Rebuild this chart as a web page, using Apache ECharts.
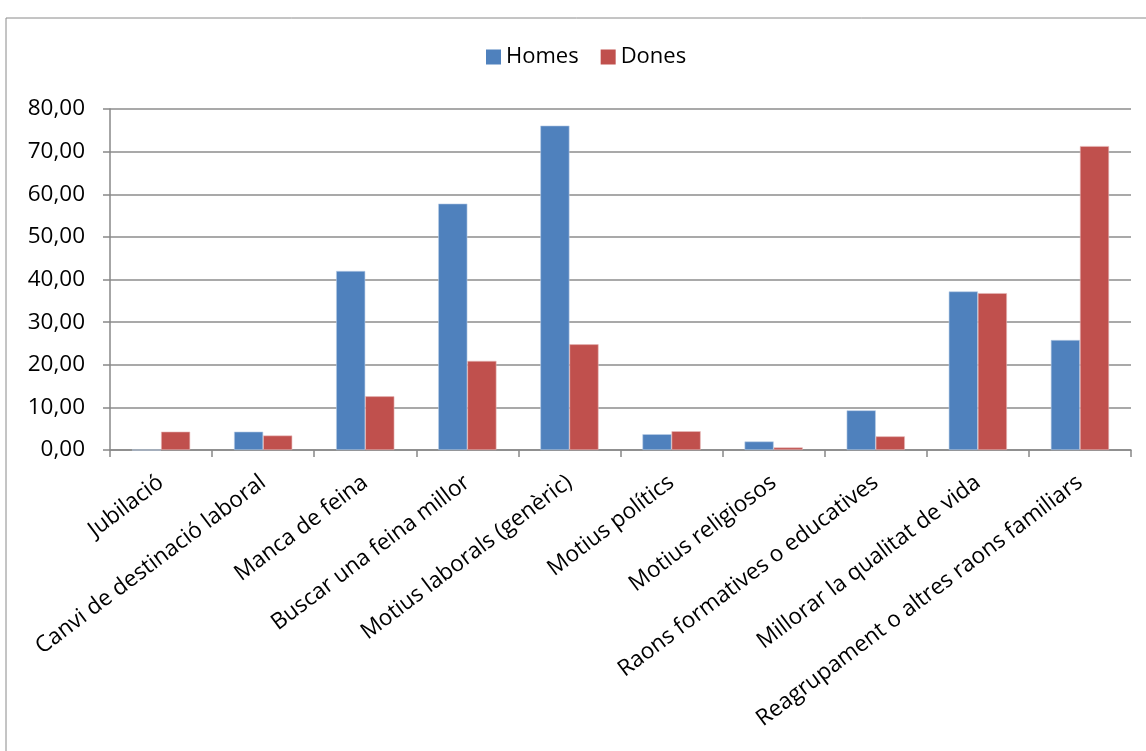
<!DOCTYPE html>
<html>
<head>
<meta charset="utf-8">
<script src="https://cdn.jsdelivr.net/npm/echarts@6/dist/echarts.min.js"></script>
<style>
  html, body { margin: 0; padding: 0; background: #ffffff; }
  #chart { width: 1146px; height: 751px; }
</style>
</head>
<body>
<div id="chart"></div>
<script>
// Motius de la migració, per sexe (%)
const categories = [
  'Jubilació',
  'Canvi de destinació laboral',
  'Manca de feina',
  'Buscar una feina millor',
  'Motius laborals (genèric)',
  'Motius polítics',
  'Motius religiosos',
  'Raons formatives o educatives',
  'Millorar la qualitat de vida',
  'Reagrupament o altres raons familiars'
];
const homes = [0, 4.3, 42.0, 57.8, 76.1, 3.7, 2.0, 9.3, 37.2, 25.8];
const dones = [4.3, 3.4, 12.6, 20.9, 24.8, 4.4, 0.6, 3.2, 36.8, 71.3];

const FONT = '"Open Sans", Lato, sans-serif';

const chart = echarts.init(document.getElementById('chart'), null, { renderer: 'canvas' });

chart.setOption({
  animation: false,
  backgroundColor: '#ffffff',
  graphic: [{
    type: 'rect',
    left: 3.5, top: 15.5,
    shape: { width: 1300, height: 900 },
    style: { fill: 'none', stroke: '#8a8a8a', lineWidth: 1 },
    silent: true, z: -1
  }],
  legend: {
    top: 41,
    left: 481,
    itemWidth: 15,
    itemHeight: 15,
    itemGap: 22,
    icon: 'rect',
    itemStyle: { borderWidth: 0 },
    textStyle: { fontFamily: FONT, fontSize: 22, color: '#000' },
    data: ['Homes', 'Dones']
  },
  grid: { left: 110, right: 15, top: 109, bottom: 301, containLabel: false },
  xAxis: {
    type: 'category',
    data: categories,
    axisLine: { lineStyle: { color: '#888888', width: 1.5 } },
    axisTick: { show: true, length: 7, alignWithLabel: false, lineStyle: { color: '#888888', width: 1.5 } },
    axisLabel: {
      interval: 0,
      rotate: 37,
      margin: 30,
      fontFamily: FONT,
      fontSize: 22.5,
      color: '#000'
    },
    splitLine: { show: false }
  },
  yAxis: {
    type: 'value',
    min: 0, max: 80, interval: 10,
    axisLine: { show: true, lineStyle: { color: '#888888', width: 1.5 } },
    axisTick: { show: true, length: 7, lineStyle: { color: '#888888', width: 1.5 } },
    axisLabel: {
      margin: 25,
      fontFamily: FONT,
      fontSize: 22.5,
      color: '#000',
      formatter: v => v.toFixed(2).replace('.', ',')
    },
    splitLine: { lineStyle: { color: '#8c8c8c', width: 1.5 } }
  },
  series: [
    {
      name: 'Homes', type: 'bar', data: homes,
      barGap: '0%', barCategoryGap: '43%',
      itemStyle: { color: '#4F81BD', borderColor: '#b9cde6', borderWidth: 0.6 }
    },
    {
      name: 'Dones', type: 'bar', data: dones,
      itemStyle: { color: '#C0504D', borderColor: '#e6b9b8', borderWidth: 0.6 }
    }
  ]
});
</script>
</body>
</html>
